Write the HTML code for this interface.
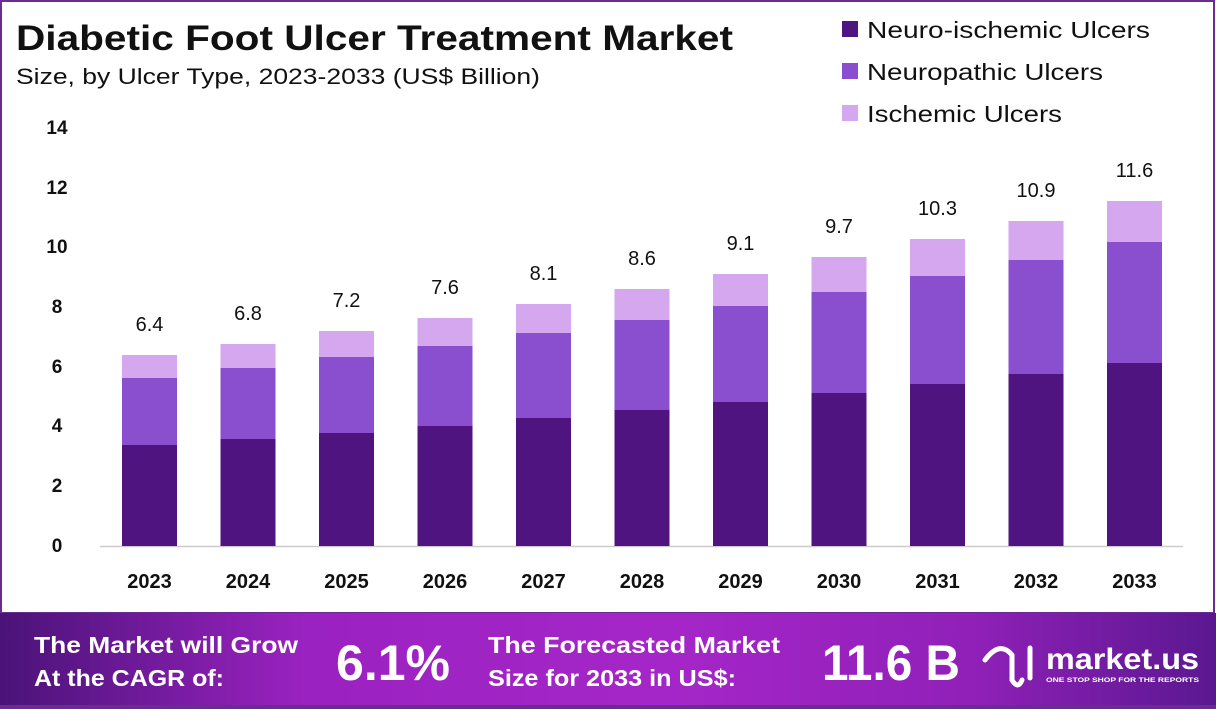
<!DOCTYPE html>
<html><head><meta charset="utf-8"><style>
body{margin:0;width:1216px;height:709px;overflow:hidden;background:#fff;font-family:"Liberation Sans",sans-serif}
</style></head><body>
<svg width="1216" height="709" xmlns="http://www.w3.org/2000/svg" font-family="Liberation Sans, sans-serif" style="position:absolute;left:0;top:0">
<defs>
<linearGradient id="fg" x1="0" x2="1" y1="0" y2="0">
<stop offset="0" stop-color="#4a1378"/><stop offset="0.25" stop-color="#9a22c0"/><stop offset="0.55" stop-color="#a526c8"/><stop offset="0.8" stop-color="#9020b8"/><stop offset="1" stop-color="#5a1890"/>
</linearGradient>
</defs>
<rect x="1" y="1" width="1213" height="612" fill="#fff" stroke="#6a2c8e" stroke-width="2"/>
<rect x="0" y="613" width="1216" height="96" fill="url(#fg)"/>
<rect x="0" y="705" width="1216" height="4" fill="#6a2c8e"/>
<text x="16" y="50" font-size="35" font-weight="bold" fill="#111" textLength="717" lengthAdjust="spacingAndGlyphs">Diabetic Foot Ulcer Treatment Market</text>
<text x="16" y="84" font-size="22" fill="#111" textLength="524" lengthAdjust="spacingAndGlyphs">Size, by Ulcer Type, 2023-2033 (US$ Billion)</text>
<rect x="842" y="21" width="16" height="16" fill="#4f1480"/>
<text x="867" y="38" font-size="23" fill="#111" textLength="283" lengthAdjust="spacingAndGlyphs">Neuro-ischemic Ulcers</text>
<rect x="842" y="63" width="16" height="16" fill="#8a4fcf"/>
<text x="867" y="80" font-size="23" fill="#111" textLength="236" lengthAdjust="spacingAndGlyphs">Neuropathic Ulcers</text>
<rect x="842" y="105" width="16" height="16" fill="#d4a7ee"/>
<text x="867" y="122" font-size="23" fill="#111" textLength="195" lengthAdjust="spacingAndGlyphs">Ischemic Ulcers</text>
<g font-size="19" font-weight="bold" fill="#111" text-anchor="middle">
<text x="57" y="134">14</text><text x="57" y="194">12</text><text x="57" y="253">10</text><text x="57" y="313">8</text><text x="57" y="373">6</text><text x="57" y="432">4</text><text x="57" y="492">2</text><text x="57" y="552">0</text>
</g>
<line x1="100" y1="546.5" x2="1183" y2="546.5" stroke="#ccc" stroke-width="1.5"/>
<g id="bars"></g>
<g fill="#fff" font-weight="bold">
<text x="34" y="653" font-size="23" textLength="264" lengthAdjust="spacingAndGlyphs">The Market will Grow</text>
<text x="34" y="686" font-size="23" textLength="190" lengthAdjust="spacingAndGlyphs">At the CAGR of:</text>
<text x="336" y="680" font-size="50" textLength="114" lengthAdjust="spacingAndGlyphs">6.1%</text>
<text x="488" y="653" font-size="23" textLength="292" lengthAdjust="spacingAndGlyphs">The Forecasted Market</text>
<text x="488" y="686" font-size="23" textLength="248" lengthAdjust="spacingAndGlyphs">Size for 2033 in US$:</text>
<text x="822" y="680" font-size="50" textLength="138" lengthAdjust="spacingAndGlyphs">11.6 B</text>
<text x="1046" y="669" font-size="30" textLength="153" lengthAdjust="spacingAndGlyphs">market.us</text>
<text x="1046" y="682" font-size="6.5" textLength="153" lengthAdjust="spacingAndGlyphs">ONE STOP SHOP FOR THE REPORTS</text>
</g>
<g stroke="#fff" stroke-width="5" fill="none" stroke-linecap="round">
<path d="M985 660 Q1000 640 1012 655 L1012 680 Q1018 690 1022 680"/>
<path d="M1030 648 L1030 678"/>
</g>
</svg>
<script>
var d=[445,439,433,426,418,410,402,393,384,374,363],m=[378,368,357,346,333,320,306,292,276,260,242],t=[355,344,331,318,304,289,274,257,239,221,201],v=["6.4","6.8","7.2","7.6","8.1","8.6","9.1","9.7","10.3","10.9","11.6"];
var s="";for(var i=0;i<11;i++){var x=122+i*98.5;
s+='<rect x="'+x+'" y="'+t[i]+'" width="55" height="'+(m[i]-t[i])+'" fill="#d4a7ee"/>';
s+='<rect x="'+x+'" y="'+m[i]+'" width="55" height="'+(d[i]-m[i])+'" fill="#8a4fcf"/>';
s+='<rect x="'+x+'" y="'+d[i]+'" width="55" height="'+(546-d[i])+'" fill="#4f1480"/>';
s+='<text x="'+(x+27.5)+'" y="'+(t[i]-24)+'" font-size="20" fill="#111" text-anchor="middle">'+v[i]+'</text>';
s+='<text x="'+(x+27.5)+'" y="588" font-size="20" font-weight="bold" fill="#111" text-anchor="middle">'+(2023+i)+'</text>';}
document.getElementById("bars").innerHTML=s;
</script>
</body></html>
